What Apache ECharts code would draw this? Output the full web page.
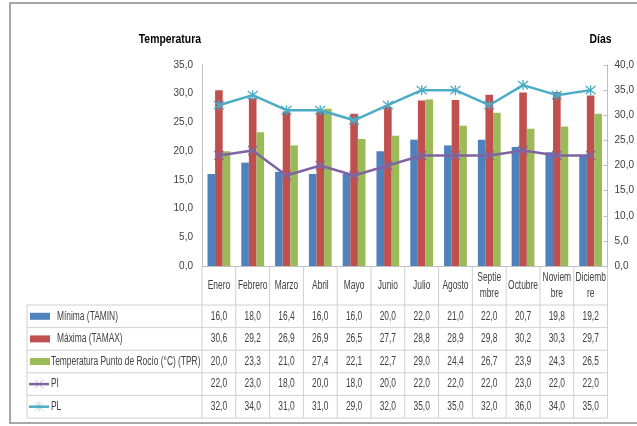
<!DOCTYPE html>
<html><head><meta charset="utf-8">
<script src="https://cdn.jsdelivr.net/npm/echarts@6/dist/echarts.min.js"></script>
<style>html,body{margin:0;padding:0;background:#fff}#c{width:637px;height:426px}</style>
</head><body><div id="c"></div>
<script>
var months = ['Enero','Febrero','Marzo','Abril','Mayo','Junio','Julio','Agosto','Septie\nmbre','Octubre','Noviem\nbre','Diciemb\nre'];
var tamin = [16.0,18.0,16.4,16.0,16.0,20.0,22.0,21.0,22.0,20.7,19.8,19.2];
var tamax = [30.6,29.2,26.9,26.9,26.5,27.7,28.8,28.9,29.8,30.2,30.3,29.7];
var tpr   = [20.0,23.3,21.0,27.4,22.1,22.7,29.0,24.4,26.7,23.9,24.3,26.5];
var pi    = [22.0,23.0,18.0,20.0,18.0,20.0,22.0,22.0,22.0,23.0,22.0,22.0];
var pl    = [32.0,34.0,31.0,31.0,29.0,32.0,35.0,35.0,32.0,36.0,34.0,35.0];
var seriesNames = ['Mínima (TAMIN)','Máxima (TAMAX)','Temperatura Punto de Rocío (°C) (TPR)','PI','PL'];
var axisTitles = ['Temperatura','Días'];
var colors = ['#4F81BD','#C0504D','#9BBB59','#8064A2','#4BACC6'];

var FONT = '"Liberation Sans","Arial",sans-serif';
var SX = 0.7;
var fmt = function(v){ return v.toFixed(1).replace('.', ','); };
var xMark = 'path://M0,0L10,10M10,0L0,10';
var star = 'path://M0,0L10,10M10,0L0,10M5,-1L5,11';

var chart = echarts.init(document.getElementById('c'));
chart.setOption({
  animation:false,
  grid:{left:202,right:29,top:65,bottom:160},
  xAxis:{type:'category',data:months,axisLabel:{show:false},axisTick:{show:false},
    axisLine:{lineStyle:{color:'#bfbfbf'}}},
  yAxis:[
    {type:'value',min:0,max:35,interval:5,splitLine:{show:false},
     axisLine:{show:true,lineStyle:{color:'#bfbfbf'}},axisTick:{show:false},
     axisLabel:{formatter:fmt,fontFamily:FONT,fontSize:10,color:'#404040',margin:9}},
    {type:'value',min:0,max:40,interval:5,splitLine:{show:false},position:'right',
     axisLine:{show:true,lineStyle:{color:'#bfbfbf'}},axisTick:{show:true,inside:true,length:4,lineStyle:{color:'#bfbfbf'}},
     axisLabel:{formatter:fmt,fontFamily:FONT,fontSize:10,color:'#404040',margin:7}}
  ],
  series:[
    {name:seriesNames[0],type:'bar',data:tamin,itemStyle:{color:colors[0]},barWidth:7.6,barGap:'0%'},
    {name:seriesNames[1],type:'bar',data:tamax,itemStyle:{color:colors[1]},barWidth:7.6,barGap:'0%'},
    {name:seriesNames[2],type:'bar',data:tpr,itemStyle:{color:colors[2]},barWidth:7.6,barGap:'0%'},
    {name:seriesNames[3],type:'line',yAxisIndex:1,data:pi,symbol:xMark,symbolSize:9,
     lineStyle:{color:colors[3],width:2.5},itemStyle:{color:colors[3],borderColor:colors[3],borderWidth:1.3}},
    {name:seriesNames[4],type:'line',yAxisIndex:1,data:pl,symbol:star,symbolSize:10,
     lineStyle:{color:colors[4],width:2.5},itemStyle:{color:colors[4],borderColor:colors[4],borderWidth:1.3}}
  ]
});

var x0 = chart.convertToPixel({xAxisIndex:0}, 0);
var x1 = chart.convertToPixel({xAxisIndex:0}, 1);
var cw = x1 - x0;
var left = x0 - cw/2, right = left + cw*12;
var yTop = chart.convertToPixel({yAxisIndex:0}, 0);
var yMax = chart.convertToPixel({yAxisIndex:0}, 35);
var headerH = 39, rowH = 22.6, tableLeft = 27;
var lineCol = '#d0d0d0';
var g = [];
function txt(x,y,s,opt,sx){
  var st = {text:s,fontFamily:FONT,fontSize:12,fill:'#404040',align:'center',verticalAlign:'middle',lineHeight:16};
  for (var k in opt) st[k]=opt[k];
  return {type:'text',x:x,y:y,scaleX:sx||SX,style:st,silent:true};
}
g.push({type:'rect',shape:{x:10,y:3,width:640,height:420},style:{fill:null,stroke:'#8a8a8a',lineWidth:1.5},silent:true});
g.push(txt(left-1, yMax-26, axisTitles[0], {align:'right',fontSize:13,fontWeight:'bold',fill:'#000'},0.8));
g.push(txt(right-7, yMax-26, axisTitles[1], {align:'center',fontSize:13,fontWeight:'bold',fill:'#000'},0.8));
var bottom = yTop + headerH + rowH*5;
for (var i=0;i<=12;i++){
  var xx = left + cw*i;
  g.push({type:'line',shape:{x1:xx,y1:yTop,x2:xx,y2:bottom},style:{stroke:lineCol,lineWidth:1}});
}
g.push({type:'line',shape:{x1:tableLeft,y1:yTop+headerH,x2:tableLeft,y2:bottom},style:{stroke:lineCol,lineWidth:1}});
for (var r=0;r<=5;r++){
  var yy = yTop + headerH + rowH*r;
  g.push({type:'line',shape:{x1:tableLeft,y1:yy,x2:right,y2:yy},style:{stroke:lineCol,lineWidth:1}});
}
months.forEach(function(m,i){
  g.push(txt(chart.convertToPixel({xAxisIndex:0}, i), yTop+headerH/2, m, {}));
});
var rows = [tamin,tamax,tpr,pi,pl];
rows.forEach(function(arr,r){
  var cy = yTop + headerH + rowH*r + rowH/2;
  arr.forEach(function(v,i){
    g.push(txt(chart.convertToPixel({xAxisIndex:0}, i), cy, fmt(v), {}));
  });
  if (r<3){
    g.push({type:'rect',shape:{x:30,y:cy-3.5,width:20,height:7},style:{fill:colors[r]}});
  } else {
    g.push({type:'line',shape:{x1:29,y1:cy,x2:49,y2:cy},style:{stroke:colors[r],lineWidth:2.5}});
    var s=4;
    g.push({type:'line',shape:{x1:39-s,y1:cy-s,x2:39+s,y2:cy+s},style:{stroke:colors[r],lineWidth:1,opacity:0.5}});
    g.push({type:'line',shape:{x1:39-s,y1:cy+s,x2:39+s,y2:cy-s},style:{stroke:colors[r],lineWidth:1,opacity:0.5}});
    if (r===4) g.push({type:'line',shape:{x1:39,y1:cy-s-1,x2:39,y2:cy+s+1},style:{stroke:colors[r],lineWidth:1,opacity:0.5}});
  }
  var tx = (r===0||r===1) ? 57 : 51;
  g.push(txt(tx, cy, seriesNames[r], {align:'left'}));
});
chart.setOption({graphic:g});
</script>
</body></html>
